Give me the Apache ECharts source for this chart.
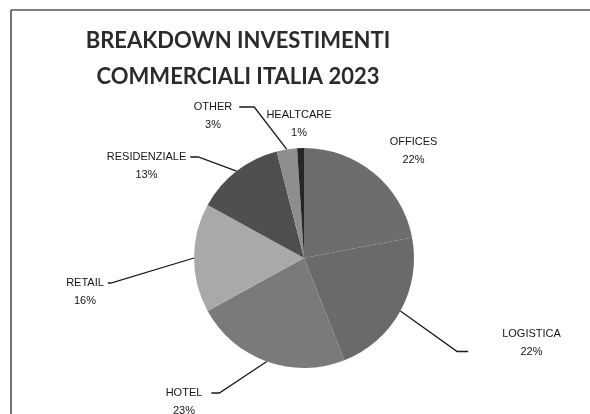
<!DOCTYPE html>
<html><head><meta charset="utf-8">
<script src="https://cdn.jsdelivr.net/npm/echarts@6/dist/echarts.min.js"></script>
<style>html,body{margin:0;padding:0;background:#fff}#chart{width:590px;height:414px}</style>
</head><body><div id="chart"></div>
<script>
// ---- data ----
const titleLines = ['BREAKDOWN INVESTIMENTI', 'COMMERCIALI ITALIA 2023'];
const categories = ['OFFICES', 'LOGISTICA', 'HOTEL', 'RETAIL', 'RESIDENZIALE', 'OTHER', 'HEALTCARE'];
const shares = [22, 22, 23, 16, 13, 3, 1];

// ---- styling / label layout (not data) ----
const sliceColors = ['#6d6d6d', '#6a6a6a', '#7a7a7a', '#a9a9a9', '#4f4f4f', '#8e8e8e', '#262626'];
// label text centre [x, y of the line the leader points at]
const labelSpots = [[413.5, 151], [531.5, 351.5], [184, 393], [85, 283], [146.5, 157], [213, 107], [299, 124]];
// which text line the leader meets: 0 = none (block centre), 1 = first line, 2 = second line
const leaderLine = [0, 2, 1, 1, 1, 1, 0];
const leaderGap = [0, 34, 9, 4, 4, 7, 0];
const leaderTail = [0, 11, 8, 3, 8, 15, 0];

const FONT = '"Liberation Sans", Arial, sans-serif';
const LABEL_COLOR = '#151515';
const measureCtx = document.createElement('canvas').getContext('2d');
measureCtx.font = '11px ' + FONT;
function textW(s) { return measureCtx.measureText(s).width; }

const chart = echarts.init(document.getElementById('chart'), null, {renderer: 'canvas'});
chart.setOption({
  animation: false,
  backgroundColor: '#ffffff',
  title: {
    text: titleLines.join('\n'),
    left: 238, top: 23, textAlign: 'center', padding: 0,
    textStyle: {fontFamily: 'Lato, "Open Sans", sans-serif', fontWeight: 'bold', fontSize: 22, lineHeight: 36, color: '#2b2b2b'}
  },
  graphic: [
    {type: 'line', shape: {x1: 11, y1: 10, x2: 590, y2: 10}, style: {stroke: '#555', lineWidth: 1.5}},
    {type: 'line', shape: {x1: 11, y1: 10, x2: 11, y2: 414}, style: {stroke: '#444', lineWidth: 1.5}}
  ],
  series: [{
    type: 'pie',
    center: [304, 258],
    radius: 110,
    startAngle: 90,
    clockwise: true,
    avoidLabelOverlap: false,
    silent: true,
    emphasis: {disabled: true},
    itemStyle: {borderWidth: 0},
    label: {show: true, position: 'outside', color: LABEL_COLOR, fontFamily: FONT, fontSize: 11, lineHeight: 18},
    labelLine: {show: true, length: 10, length2: 8, smooth: false, lineStyle: {color: '#1a1a1a', width: 1.3}},
    labelLayout: function (p) {
      const s = labelSpots[p.dataIndex];
      return {x: s[0], y: s[1], align: 'center', verticalAlign: 'middle'};
    },
    data: categories.map((c, i) => {
      const pct = shares[i] + '%';
      const w = Math.max(textW(c), textW(pct)) + 2 * leaderGap[i];
      let txt = '{c|' + c + '}\n{c|' + pct + '}';
      if (leaderLine[i] === 1) txt = '{c| }\n' + txt;
      if (leaderLine[i] === 2) txt = txt + '\n{c| }';
      return {
        name: c,
        value: shares[i],
        itemStyle: {color: sliceColors[i]},
        label: {
          formatter: txt,
          rich: {c: {align: 'center', width: w, fontFamily: FONT, fontSize: 11, lineHeight: 18, color: LABEL_COLOR}}
        },
        labelLine: {show: leaderLine[i] !== 0, length2: leaderTail[i]}
      };
    })
  }]
});
</script></body></html>
